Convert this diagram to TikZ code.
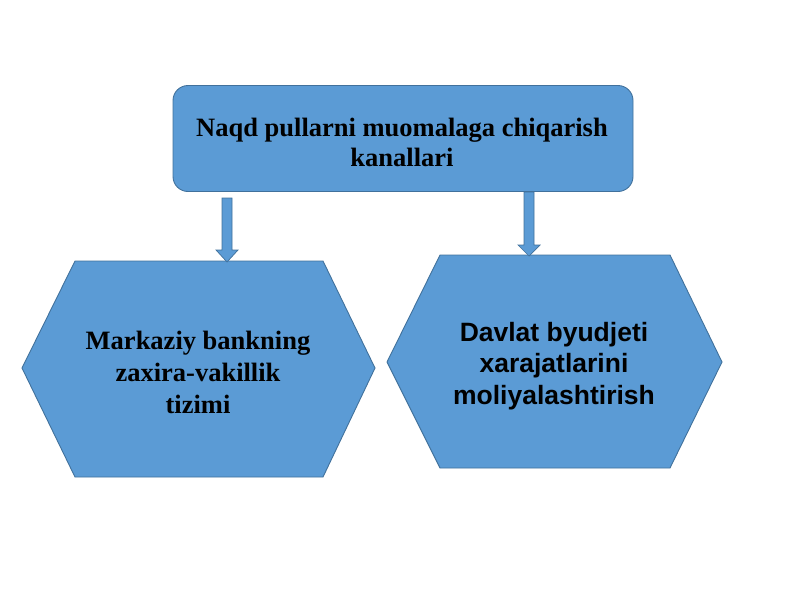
\documentclass[tikz,border=0pt]{standalone}
\usepackage{fontspec}
\setmainfont{Liberation Serif}
\newfontfamily\sansb{Liberation Sans}
\usetikzlibrary{calc}
\definecolor{boxfill}{HTML}{5B9BD5}
\definecolor{boxline}{HTML}{41719C}
\tikzset{
  shapebox/.style={fill=boxfill, draw=boxline, line width=0.9pt},
  blockarrow/.style={fill=boxfill, draw=boxline, line width=0.7pt, line join=miter},
  lbl/.style={align=center, text=black}
}
\begin{document}
\begin{tikzpicture}[x=1pt,y=-1pt]
\useasboundingbox (0,0) rectangle (800,600);
% top rounded box
\node[shapebox, rounded corners=15pt, minimum width=460pt, minimum height=106pt] (top) at (403,138.5) {};
\node[lbl, font=\bfseries\fontsize{26.5}{30}\selectfont] (toptext) at (402,142)
  {Naqd pullarni muomalaga chiqarish\\kanallari};
% left hexagon
\draw[shapebox] (75,261) -- (323,261) -- (375,368) -- (323,477) -- (75,477) -- (22,368) -- cycle;
\node[lbl, font=\bfseries\fontsize{26.5}{32}\selectfont] (left) at (198,372)
  {Markaziy bankning\\zaxira-vakillik\\tizimi};
% right hexagon
\draw[shapebox] (440,255) -- (670,255) -- (722,362) -- (670,468) -- (440,468) -- (387,362) -- cycle;
\node[lbl, font=\sansb\bfseries\fontsize{26.5}{31.5}\selectfont] (right) at (554,366)
  {Davlat byudjeti\\xarajatlarini\\moliyalashtirish};
% block arrows
\coordinate (a1) at (227,198);
\coordinate (b1) at (227,262);
\coordinate (a2) at (529,192);
\coordinate (b2) at (529,256);
\draw[blockarrow] ($(a1)+(-5,0)$) -- ($(a1)+(5,0)$) -- ($(b1)+(5,-12)$) -- ($(b1)+(11,-12)$)
  -- (b1) -- ($(b1)+(-11,-12)$) -- ($(b1)+(-5,-12)$) -- cycle;
\draw[blockarrow] ($(a2)+(-5,0)$) -- ($(a2)+(5,0)$) -- ($(b2)+(5,-11)$) -- ($(b2)+(11,-11)$)
  -- (b2) -- ($(b2)+(-11,-11)$) -- ($(b2)+(-5,-11)$) -- cycle;
\end{tikzpicture}
\end{document}
